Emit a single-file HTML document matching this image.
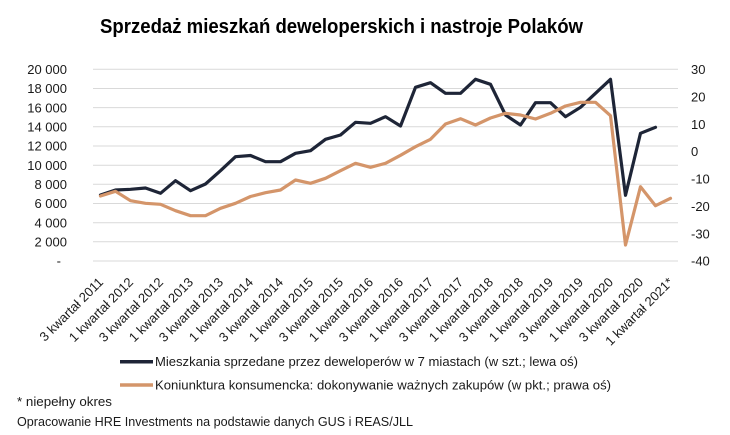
<!DOCTYPE html>
<html>
<head>
<meta charset="utf-8">
<style>
html,body{margin:0;padding:0;background:#fff;}
svg{display:block;}
text{font-family:"Liberation Sans",sans-serif;fill:#1a1a1a;}
</style>
</head>
<body>
<svg width="730" height="435" viewBox="0 0 730 435" xmlns="http://www.w3.org/2000/svg">
<rect width="730" height="435" fill="#fff"/>
<text x="100" y="33" font-size="20" font-weight="bold" textLength="483" lengthAdjust="spacingAndGlyphs" style="fill:#000">Sprzedaż mieszkań deweloperskich i nastroje Polaków</text>

<g stroke="#d9d9d9" stroke-width="1">
<line x1="93" x2="678" y1="69.3" y2="69.3"/>
<line x1="93" x2="678" y1="88.5" y2="88.5"/>
<line x1="93" x2="678" y1="107.6" y2="107.6"/>
<line x1="93" x2="678" y1="126.8" y2="126.8"/>
<line x1="93" x2="678" y1="146" y2="146"/>
<line x1="93" x2="678" y1="165.2" y2="165.2"/>
<line x1="93" x2="678" y1="184.3" y2="184.3"/>
<line x1="93" x2="678" y1="203.5" y2="203.5"/>
<line x1="93" x2="678" y1="222.7" y2="222.7"/>
<line x1="93" x2="678" y1="241.8" y2="241.8"/>
<line x1="93" x2="678" y1="261" y2="261"/>
</g>

<g font-size="13" text-anchor="end">
<text x="67" y="74">20 000</text>
<text x="67" y="93.2">18 000</text>
<text x="67" y="112.3">16 000</text>
<text x="67" y="131.5">14 000</text>
<text x="67" y="150.7">12 000</text>
<text x="67" y="169.9">10 000</text>
<text x="67" y="189">8 000</text>
<text x="67" y="208.2">6 000</text>
<text x="67" y="227.4">4 000</text>
<text x="67" y="246.5">2 000</text>
<text x="61" y="265.7">-</text>
</g>

<g font-size="13">
<text x="691" y="74">30</text>
<text x="691" y="101.4">20</text>
<text x="691" y="128.8">10</text>
<text x="691" y="156.2">0</text>
<text x="691" y="183.6">-10</text>
<text x="691" y="211">-20</text>
<text x="691" y="238.4">-30</text>
<text x="691" y="265.7">-40</text>
</g>

<polyline fill="none" stroke="#1e2537" stroke-width="3.2" stroke-linejoin="round" stroke-linecap="round" points="100.5,195 115.5,190 130.5,189.3 145.5,188 160.5,193.3 175.5,180.7 190.5,190.7 205.5,184 220.5,170.7 235.5,156.7 250.5,155.5 265.5,161.7 280.5,161.7 295.5,153.3 310.5,150.7 325.5,139.3 340.5,135 355.5,122.3 370.5,123.3 385.5,116.7 400.5,126 415.5,87.3 430.5,82.7 445.5,93.3 460.5,93.3 475.5,79.3 490.5,84.3 505.5,115 520.5,125 535.5,102.7 550.5,102.7 565.5,116.7 580.5,107.3 595.5,93.3 610.5,79.3 625.5,195.3 640.5,133.3 655.5,127.3"/>

<polyline fill="none" stroke="#d4956a" stroke-width="3.2" stroke-linejoin="round" stroke-linecap="round" points="100.5,196 115.5,191.3 130.5,200.7 145.5,203.3 160.5,204.3 175.5,210.7 190.5,215.7 205.5,215.7 220.5,208.3 235.5,203.3 250.5,196.5 265.5,192.7 280.5,190 295.5,180 310.5,183.3 325.5,178.3 340.5,170.7 355.5,163.3 370.5,167.3 385.5,163.3 400.5,155.3 415.5,146.7 430.5,139.3 445.5,124 460.5,118.7 475.5,125 490.5,118 505.5,113.3 520.5,115 535.5,119 550.5,113.3 565.5,106 580.5,102.3 595.5,102.3 610.5,115.7 625.5,245 640.5,186.7 655.5,205.7 670.5,198.3"/>

<g font-size="13" text-anchor="end">
<text transform="translate(104,283) rotate(-45)">3 kwartał 2011</text>
<text transform="translate(134,283) rotate(-45)">1 kwartał 2012</text>
<text transform="translate(164,283) rotate(-45)">3 kwartał 2012</text>
<text transform="translate(194,283) rotate(-45)">1 kwartał 2013</text>
<text transform="translate(224,283) rotate(-45)">3 kwartał 2013</text>
<text transform="translate(254,283) rotate(-45)">1 kwartał 2014</text>
<text transform="translate(284,283) rotate(-45)">3 kwartał 2014</text>
<text transform="translate(314,283) rotate(-45)">1 kwartał 2015</text>
<text transform="translate(344,283) rotate(-45)">3 kwartał 2015</text>
<text transform="translate(374,283) rotate(-45)">1 kwartał 2016</text>
<text transform="translate(404,283) rotate(-45)">3 kwartał 2016</text>
<text transform="translate(434,283) rotate(-45)">1 kwartał 2017</text>
<text transform="translate(464,283) rotate(-45)">3 kwartał 2017</text>
<text transform="translate(494,283) rotate(-45)">1 kwartał 2018</text>
<text transform="translate(524,283) rotate(-45)">3 kwartał 2018</text>
<text transform="translate(554,283) rotate(-45)">1 kwartał 2019</text>
<text transform="translate(584,283) rotate(-45)">3 kwartał 2019</text>
<text transform="translate(614,283) rotate(-45)">1 kwartał 2020</text>
<text transform="translate(644,283) rotate(-45)">3 kwartał 2020</text>
<text transform="translate(674,283) rotate(-45)">1 kwartał 2021*</text>
</g>

<line x1="120" x2="153" y1="361.7" y2="361.7" stroke="#1e2537" stroke-width="3.5"/>
<text x="155" y="366" font-size="12.5" textLength="423" lengthAdjust="spacingAndGlyphs">Mieszkania sprzedane przez deweloperów w 7 miastach (w szt.; lewa oś)</text>
<line x1="120" x2="153" y1="385" y2="385" stroke="#d4956a" stroke-width="3.5"/>
<text x="155" y="389.5" font-size="12.5" textLength="456" lengthAdjust="spacingAndGlyphs">Koniunktura konsumencka: dokonywanie ważnych zakupów (w pkt.; prawa oś)</text>

<text x="17" y="406" font-size="12.5" textLength="95" lengthAdjust="spacingAndGlyphs">* niepełny okres</text>
<text x="17" y="426" font-size="12.5" textLength="396" lengthAdjust="spacingAndGlyphs">Opracowanie HRE Investments na podstawie danych GUS i REAS/JLL</text>
</svg>
</body>
</html>
